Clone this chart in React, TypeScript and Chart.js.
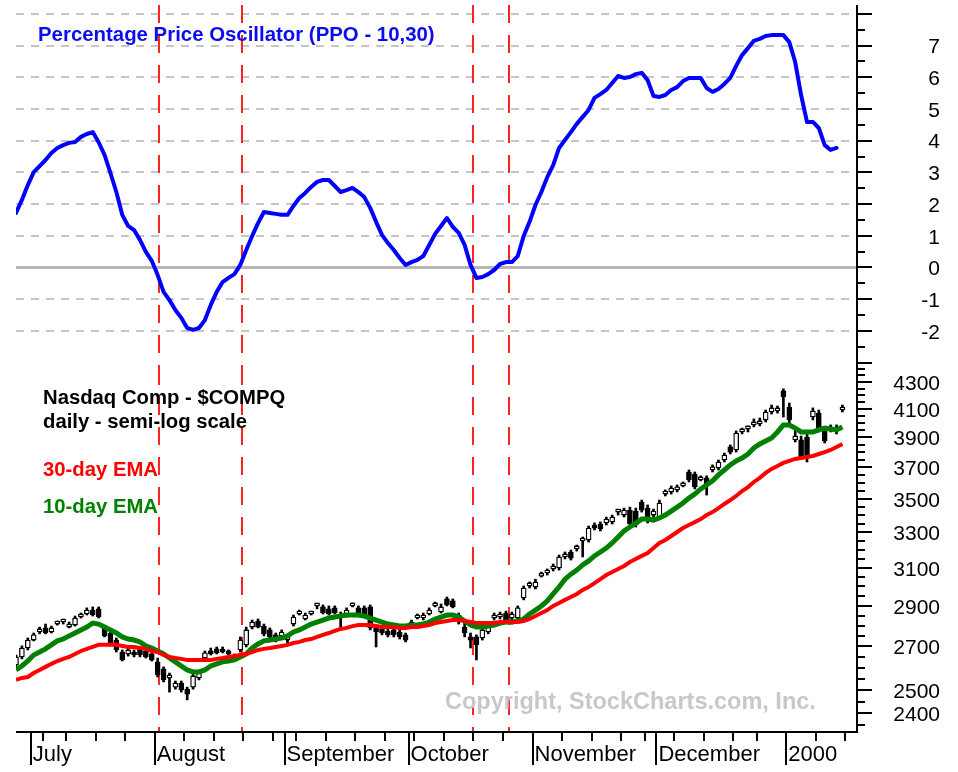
import React, { useEffect, useRef } from 'react';
import { Chart, registerables } from 'chart.js';

Chart.register(...registerables);

// ---------- DATA ----------
// trading-day index 0 = 28 Jun 1999 ... 140 = 14 Jan 2000
const ppoTitle = 'Percentage Price Oscillator (PPO - 10,30)';
const priceTitle1 = 'Nasdaq Comp - $COMPQ';
const priceTitle2 = 'daily - semi-log scale';
const ema30Label = '30-day EMA';
const ema10Label = '10-day EMA';
const copyrightText = 'Copyright, StockCharts.com, Inc.';

const ppoValues = [
  1.72, 2.13, 2.60, 3.01, 3.20, 3.39, 3.61, 3.77, 3.86, 3.93,
  3.96, 4.12, 4.21, 4.27, 3.95, 3.55, 2.98, 2.38, 1.66, 1.31,
  1.18, 0.87, 0.49, 0.21, -0.24, -0.77, -1.03, -1.34, -1.59, -1.91,
  -1.97, -1.91, -1.66, -1.18, -0.77, -0.46, -0.33, -0.21, 0.08, 0.55,
  0.99, 1.40, 1.75, 1.72, 1.69, 1.66, 1.66, 1.94, 2.19, 2.35,
  2.54, 2.70, 2.76, 2.76, 2.57, 2.38, 2.44, 2.51, 2.38, 2.22,
  1.88, 1.44, 1.03, 0.77, 0.55, 0.30, 0.08, 0.17, 0.24, 0.36,
  0.71, 1.06, 1.31, 1.56, 1.28, 1.09, 0.71, 0.08, -0.33, -0.30,
  -0.21, -0.08, 0.11, 0.17, 0.17, 0.36, 0.99, 1.44, 1.97, 2.38,
  2.85, 3.23, 3.77, 4.02, 4.27, 4.53, 4.75, 4.97, 5.35, 5.47,
  5.60, 5.82, 6.04, 5.98, 6.01, 6.10, 6.14, 5.91, 5.41, 5.38,
  5.44, 5.60, 5.69, 5.88, 5.98, 5.98, 5.98, 5.66, 5.54, 5.63,
  5.79, 5.98, 6.36, 6.70, 6.92, 7.15, 7.21, 7.30, 7.33, 7.33,
  7.33, 7.11, 6.48, 5.44, 4.59, 4.59, 4.40, 3.86, 3.71, 3.77,
];

const ema10 = [
  2590, 2608, 2631, 2659, 2673, 2688, 2707, 2726, 2735, 2750,
  2764, 2779, 2793, 2813, 2808, 2793, 2779, 2764, 2745, 2735,
  2730, 2721, 2702, 2692, 2678, 2664, 2645, 2627, 2608, 2590,
  2581, 2581, 2590, 2608, 2618, 2627, 2631, 2636, 2650, 2664,
  2692, 2711, 2726, 2730, 2735, 2740, 2750, 2769, 2779, 2793,
  2808, 2818, 2828, 2838, 2843, 2848, 2853, 2853, 2853, 2848,
  2838, 2828, 2818, 2808, 2803, 2798, 2798, 2803, 2803, 2808,
  2818, 2833, 2843, 2853, 2853, 2843, 2823, 2803, 2793, 2793,
  2798, 2803, 2813, 2818, 2818, 2823, 2833, 2858, 2878, 2899,
  2925, 2961, 2997, 3039, 3066, 3088, 3116, 3138, 3166, 3188,
  3210, 3239, 3273, 3308, 3331, 3354, 3378, 3378, 3372, 3384,
  3402, 3426, 3450, 3475, 3505, 3530, 3562, 3587, 3613, 3651,
  3683, 3716, 3742, 3761, 3788, 3828, 3856, 3876, 3897, 3938,
  3987, 3987, 3965, 3938, 3938, 3938, 3952, 3965, 3959, 3952,
  3973,
];

const ema30 = [
  2545, 2554, 2558, 2576, 2590, 2604, 2618, 2631, 2641, 2650,
  2664, 2678, 2688, 2697, 2707, 2707, 2707, 2707, 2702, 2697,
  2697, 2692, 2688, 2678, 2673, 2659, 2650, 2645, 2641, 2636,
  2636, 2636, 2636, 2636, 2641, 2645, 2650, 2654, 2659, 2664,
  2673, 2683, 2688, 2692, 2697, 2702, 2707, 2716, 2721, 2730,
  2735, 2745, 2755, 2764, 2774, 2784, 2789, 2798, 2803, 2803,
  2803, 2798, 2793, 2793, 2793, 2789, 2789, 2793, 2793, 2798,
  2803, 2813, 2818, 2823, 2828, 2828, 2823, 2818, 2813, 2813,
  2813, 2813, 2818, 2818, 2818, 2818, 2823, 2833, 2848, 2863,
  2878, 2899, 2914, 2930, 2945, 2961, 2982, 2997, 3018, 3039,
  3061, 3077, 3094, 3110, 3132, 3149, 3166, 3182, 3210, 3239,
  3256, 3279, 3302, 3325, 3343, 3360, 3378, 3402, 3420, 3444,
  3469, 3493, 3518, 3549, 3574, 3606, 3632, 3664, 3690, 3709,
  3729, 3742, 3755, 3761, 3768, 3775, 3788, 3801, 3815, 3835,
  3856,
];

const opens = [
  2613, 2650, 2692, 2730, 2769, 2789, 2769, 2808, 2818, 2793,
  2803, 2843, 2858, 2878, 2884, 2789, 2764, 2730, 2673, 2664,
  2673, 2688, 2678, 2664, 2627, 2595, 2554, 2513, 2531, 2504,
  2513, 2554, 2645, 2678, 2688, 2683, 2673, 2654, 2683, 2707,
  2793, 2823, 2798, 2779, 2755, 2750, 2730, 2808, 2858, 2833,
  2858, 2899, 2894, 2884, 2889, 2858, 2853, 2899, 2889, 2889,
  2894, 2789, 2784, 2774, 2779, 2769, 2755, 2798, 2838, 2838,
  2858, 2899, 2868, 2935, 2925, 2853, 2793, 2745, 2745, 2740,
  2769, 2838, 2843, 2863, 2838, 2838, 2940, 3003, 2997, 3055,
  3072, 3094, 3099, 3160, 3188, 3205, 3250, 3256, 3343, 3349,
  3355, 3361, 3420, 3402, 3432, 3426, 3481, 3444, 3402, 3390,
  3530, 3543, 3556, 3581, 3670, 3657, 3619, 3632, 3683, 3696,
  3748, 3836, 3815, 3938, 3959, 3987, 3994, 4022, 4079, 4086,
  4233, 4115, 3883, 3883, 3903, 4043, 4071, 3945, 3952, 3945,
  4093,
];

const highs = [
  2659, 2702, 2740, 2764, 2793, 2808, 2798, 2823, 2833, 2818,
  2848, 2863, 2889, 2894, 2894, 2798, 2774, 2740, 2683, 2692,
  2683, 2697, 2688, 2673, 2645, 2604, 2576, 2540, 2540, 2513,
  2572, 2586, 2678, 2692, 2697, 2697, 2683, 2664, 2745, 2793,
  2828, 2833, 2808, 2789, 2764, 2779, 2755, 2853, 2878, 2863,
  2873, 2909, 2904, 2899, 2899, 2868, 2889, 2914, 2899, 2899,
  2904, 2798, 2793, 2784, 2789, 2779, 2764, 2828, 2858, 2863,
  2889, 2919, 2909, 2945, 2935, 2863, 2818, 2764, 2755, 2789,
  2813, 2863, 2868, 2873, 2868, 2899, 3003, 3024, 3039, 3077,
  3094, 3121, 3171, 3188, 3199, 3227, 3273, 3337, 3355, 3361,
  3390, 3402, 3438, 3444, 3450, 3444, 3493, 3463, 3438, 3493,
  3556, 3581, 3587, 3606, 3683, 3670, 3645, 3645, 3716, 3748,
  3794, 3849, 3945, 3965, 3980, 4029, 4036, 4093, 4129, 4122,
  4248, 4144, 3952, 3910, 3931, 4108, 4093, 3973, 3987, 3987,
  4129,
];

const lows = [
  2604, 2641, 2683, 2726, 2760, 2760, 2764, 2803, 2808, 2789,
  2798, 2838, 2853, 2848, 2838, 2745, 2707, 2673, 2631, 2654,
  2650, 2650, 2645, 2631, 2558, 2536, 2491, 2504, 2491, 2457,
  2504, 2545, 2636, 2659, 2664, 2669, 2659, 2641, 2673, 2697,
  2784, 2789, 2750, 2735, 2721, 2745, 2716, 2798, 2853, 2828,
  2853, 2884, 2858, 2853, 2858, 2789, 2843, 2894, 2858, 2843,
  2779, 2697, 2755, 2745, 2745, 2735, 2721, 2789, 2833, 2828,
  2853, 2894, 2863, 2899, 2889, 2808, 2745, 2692, 2636, 2730,
  2760, 2828, 2833, 2818, 2808, 2828, 2930, 2992, 2987, 3050,
  3061, 3083, 3088, 3149, 3143, 3193, 3160, 3244, 3314, 3308,
  3343, 3349, 3402, 3390, 3337, 3331, 3420, 3355, 3372, 3378,
  3518, 3530, 3543, 3575, 3606, 3562, 3613, 3524, 3670, 3683,
  3735, 3788, 3801, 3924, 3938, 3973, 3980, 4008, 4064, 4071,
  4043, 3987, 3869, 3755, 3735, 4022, 3938, 3862, 3938, 3924,
  4079,
];

const closes = [
  2650, 2692, 2730, 2755, 2784, 2764, 2789, 2818, 2823, 2808,
  2838, 2853, 2878, 2853, 2843, 2750, 2716, 2683, 2636, 2683,
  2659, 2659, 2650, 2636, 2567, 2545, 2567, 2531, 2500, 2482,
  2563, 2576, 2669, 2664, 2669, 2673, 2664, 2645, 2730, 2779,
  2818, 2793, 2760, 2745, 2726, 2769, 2745, 2843, 2868, 2853,
  2868, 2901, 2863, 2858, 2863, 2838, 2878, 2904, 2863, 2853,
  2789, 2769, 2764, 2755, 2755, 2745, 2730, 2818, 2848, 2853,
  2878, 2909, 2894, 2904, 2894, 2818, 2764, 2730, 2707, 2779,
  2803, 2853, 2853, 2828, 2858, 2889, 2992, 3013, 3024, 3066,
  3083, 3110, 3160, 3177, 3154, 3216, 3261, 3325, 3325, 3320,
  3378, 3390, 3422, 3432, 3349, 3343, 3432, 3378, 3426, 3475,
  3543, 3568, 3575, 3594, 3619, 3575, 3632, 3581, 3703, 3735,
  3781, 3801, 3931, 3952, 3961, 4008, 4015, 4079, 4108, 4108,
  4188, 4022, 3910, 3768, 3761, 4086, 3952, 3876, 3973, 3966,
  4095,
];

// x-axis (trading-day positions)
const monthTickDays = [2.5, 23.5, 45.5, 66.5, 87.5, 108.5, 130.5];
const monthLabels = ['July', 'August', 'September', 'October', 'November', 'December', '2000'];
const weekTickDays = [4.5, 8.5, 13.5, 18.5, 28.5, 33.5, 38.5, 43.5, 47.5, 52.5, 57.5, 62.5,
  67.5, 72.5, 77.5, 82.5, 92.5, 97.5, 102.5, 106.5, 111.5, 116.5, 121.5, 125.5, 135.5, 140.5];
const signalDays = [24.25, 38.3, 77.45, 83.55];

// y-axis ticks
const ppoGridValues = [8, 7, 6, 5, 4, 3, 2, 1, -1, -2];
const ppoTickLabels = [7, 6, 5, 4, 3, 2, 1, 0, -1, -2];
const ppoMajorTicks = [8, 7, 6, 5, 4, 3, 2, 1, 0, -1, -2, -3];
const priceTickLabels = [4300, 4100, 3900, 3700, 3500, 3300, 3100, 2900, 2700, 2500, 2400];

const X_MIN = 0;
const X_MAX = 142.3;
const PPO_MIN = -3.14;
const PPO_MAX = 8.28;
const PRICE_MIN = 2322;
const PRICE_MAX = 4415;

const FONT = "'Liberation Sans', Arial, Helvetica, sans-serif";
const TOP_H = 367;
const BOT_H = 405;
const LABEL_RIGHT = 940;

function drawSignals(chart: any) {
  const { ctx, chartArea: ca, scales } = chart;
  ctx.save();
  ctx.strokeStyle = '#ff2424';
  ctx.lineWidth = 2;
  ctx.setLineDash([18, 12]);
  for (const d of signalDays) {
    const px = Math.round(scales.x.getPixelForValue(d));
    ctx.beginPath();
    ctx.moveTo(px, ca.top);
    ctx.lineTo(px, ca.bottom);
    ctx.stroke();
  }
  ctx.restore();
}

const ppoPanelPlugin = {
  id: 'ppoPanel',
  beforeDatasetsDraw(chart: any) {
    const { ctx, chartArea: ca, scales } = chart;
    const y = scales.y;
    ctx.save();
    ctx.strokeStyle = '#c6c6c6';
    ctx.lineWidth = 2;
    ctx.setLineDash([8, 7]);
    for (const v of ppoGridValues) {
      const py = Math.round(y.getPixelForValue(v));
      ctx.beginPath();
      ctx.moveTo(ca.left, py);
      ctx.lineTo(ca.right - 3, py);
      ctx.stroke();
    }
    ctx.setLineDash([]);
    ctx.strokeStyle = '#b6b6b6';
    ctx.lineWidth = 3;
    const zy = y.getPixelForValue(0);
    ctx.beginPath();
    ctx.moveTo(ca.left, zy);
    ctx.lineTo(ca.right, zy);
    ctx.stroke();
    ctx.restore();

    drawSignals(chart);

    ctx.save();
    ctx.font = `bold 20.4px ${FONT}`;
    ctx.fillStyle = '#0c0cf0';
    ctx.textBaseline = 'middle';
    ctx.textAlign = 'left';
    ctx.fillText(ppoTitle, 38, 35);
    ctx.restore();
  },
  afterDraw(chart: any) {
    const { ctx, chartArea: ca, scales } = chart;
    const y = scales.y;
    const ax = ca.right + 1;
    ctx.save();
    ctx.strokeStyle = '#000';
    ctx.lineWidth = 2;
    ctx.beginPath();
    ctx.moveTo(ax, ca.top);
    ctx.lineTo(ax, TOP_H);
    ctx.stroke();
    for (const v of ppoMajorTicks) {
      const py = Math.round(y.getPixelForValue(v));
      ctx.beginPath();
      ctx.moveTo(ax, py);
      ctx.lineTo(ax + 15, py);
      ctx.stroke();
      const pm = Math.round(y.getPixelForValue(v + 0.5));
      if (pm > ca.top) {
        ctx.beginPath();
        ctx.moveTo(ax, pm);
        ctx.lineTo(ax + 8, pm);
        ctx.stroke();
      }
    }
    ctx.fillStyle = '#000';
    ctx.font = `21px ${FONT}`;
    ctx.textAlign = 'right';
    ctx.textBaseline = 'middle';
    for (const v of ppoTickLabels) {
      ctx.fillText(String(v), LABEL_RIGHT, y.getPixelForValue(v) + 2);
    }
    ctx.restore();
  },
};

const pricePanelPlugin = {
  id: 'pricePanel',
  beforeDatasetsDraw(chart: any) {
    const { ctx } = chart;
    drawSignals(chart);
    const off = TOP_H;
    ctx.save();
    ctx.textBaseline = 'middle';
    ctx.textAlign = 'left';
    ctx.font = `bold 20.3px ${FONT}`;
    ctx.fillStyle = '#000';
    ctx.fillText(priceTitle1, 43, 398 - off);
    ctx.fillText(priceTitle2, 43, 422 - off);
    ctx.fillStyle = '#ff0000';
    ctx.fillText(ema30Label, 43, 470 - off);
    ctx.fillStyle = '#008000';
    ctx.fillText(ema10Label, 43, 507 - off);
    ctx.font = `bold 23.5px ${FONT}`;
    ctx.fillStyle = '#c8c8c8';
    ctx.fillText(copyrightText, 445, 703 - off);
    ctx.restore();
  },
  afterDraw(chart: any) {
    const { ctx, chartArea: ca, scales } = chart;
    const y = scales.y;
    const x = scales.x;
    const ax = ca.right + 1;
    ctx.save();
    ctx.strokeStyle = '#000';
    ctx.lineWidth = 2;
    ctx.beginPath();
    ctx.moveTo(ax, 0);
    ctx.lineTo(ax, ca.bottom + 1);
    ctx.stroke();
    for (let p = 2350; p <= 4400; p += 50) {
      const py = Math.round(y.getPixelForValue(p));
      if (py < 1 || py > ca.bottom - 2) continue;
      const long = priceTickLabels.includes(p);
      ctx.beginPath();
      ctx.moveTo(ax, py);
      ctx.lineTo(ax + (long ? 15 : 8), py);
      ctx.stroke();
    }
    const by = ca.bottom;
    ctx.beginPath();
    ctx.moveTo(ca.left, by);
    ctx.lineTo(ax + 1, by);
    ctx.stroke();
    for (const d of weekTickDays) {
      const px = Math.round(x.getPixelForValue(d));
      ctx.beginPath();
      ctx.moveTo(px, by);
      ctx.lineTo(px, by + 9);
      ctx.stroke();
    }
    for (const d of monthTickDays) {
      const px = Math.round(x.getPixelForValue(d));
      ctx.beginPath();
      ctx.moveTo(px, by);
      ctx.lineTo(px, by + 33);
      ctx.stroke();
    }
    ctx.fillStyle = '#000';
    ctx.font = `22px ${FONT}`;
    ctx.textAlign = 'left';
    ctx.textBaseline = 'middle';
    monthLabels.forEach((lab, i) => {
      const px = x.getPixelForValue(monthTickDays[i]);
      ctx.fillText(lab, px + 2, by + 23);
    });
    ctx.font = `21px ${FONT}`;
    ctx.textAlign = 'right';
    for (const p of priceTickLabels) {
      ctx.fillText(String(p), LABEL_RIGHT, y.getPixelForValue(p) + 2);
    }
    ctx.restore();
  },
};

export default function App() {
  const topRef = useRef<HTMLCanvasElement>(null);
  const botRef = useRef<HTMLCanvasElement>(null);

  useEffect(() => {
    const top = new Chart(topRef.current as HTMLCanvasElement, {
      type: 'line',
      data: {
        datasets: [
          {
            label: 'PPO',
            data: ppoValues.map((v, i) => ({ x: i, y: v })),
            borderColor: '#0000ff',
            borderWidth: 4,
            pointRadius: 0,
            tension: 0,
            fill: false,
            borderJoinStyle: 'round',
            borderCapStyle: 'round',
          },
        ],
      },
      options: {
        responsive: false,
        animation: false,
        devicePixelRatio: 1,
        events: [],
        layout: { padding: { left: 16, right: 102, top: 5, bottom: 0 } },
        plugins: { legend: { display: false }, tooltip: { enabled: false } },
        scales: {
          x: { type: 'linear', min: X_MIN, max: X_MAX, display: false, offset: false },
          y: { type: 'linear', min: PPO_MIN, max: PPO_MAX, display: false },
        },
      },
      plugins: [ppoPanelPlugin],
    } as any);

    const bot = new Chart(botRef.current as HTMLCanvasElement, {
      type: 'bar',
      data: {
        datasets: [
          {
            type: 'line',
            label: ema30Label,
            data: ema30.map((v, i) => ({ x: i, y: v })),
            borderColor: '#ff0000',
            borderWidth: 4,
            pointRadius: 0,
            tension: 0,
            fill: false,
            order: 0,
          },
          {
            type: 'line',
            label: ema10Label,
            data: ema10.map((v, i) => ({ x: i, y: v })),
            borderColor: '#008000',
            borderWidth: 5,
            pointRadius: 0,
            tension: 0,
            fill: false,
            order: 1,
          },
          {
            type: 'bar',
            label: 'body',
            data: opens.map((o, i) => ({ x: i, y: [o, closes[i]] })),
            backgroundColor: (c: any) => {
              const i = c.dataIndex;
              return closes[i] >= opens[i] ? '#ffffff' : '#000000';
            },
            borderColor: '#000',
            borderWidth: 1.3,
            borderSkipped: false,
            barThickness: 5,
            minBarLength: 3,
            grouped: false,
            order: 2,
          },
          {
            type: 'bar',
            label: 'wick',
            data: lows.map((l, i) => ({ x: i, y: [l, highs[i]] })),
            backgroundColor: '#000',
            borderWidth: 0,
            barThickness: 2,
            grouped: false,
            order: 3,
          },
        ],
      },
      options: {
        responsive: false,
        animation: false,
        devicePixelRatio: 1,
        events: [],
        layout: { padding: { left: 16, right: 102, top: 0, bottom: 40 } },
        plugins: { legend: { display: false }, tooltip: { enabled: false } },
        scales: {
          x: { type: 'linear', min: X_MIN, max: X_MAX, display: false, offset: false },
          y: { type: 'logarithmic', min: PRICE_MIN, max: PRICE_MAX, display: false },
        },
      },
      plugins: [pricePanelPlugin],
    } as any);

    return () => {
      top.destroy();
      bot.destroy();
    };
  }, []);

  return (
    <div style={{ position: 'absolute', left: 0, top: 0, width: 958, height: 772, background: '#fff' }}>
      <canvas ref={topRef} width={958} height={TOP_H} style={{ position: 'absolute', left: 0, top: 0 }} />
      <canvas ref={botRef} width={958} height={BOT_H} style={{ position: 'absolute', left: 0, top: TOP_H }} />
    </div>
  );
}
